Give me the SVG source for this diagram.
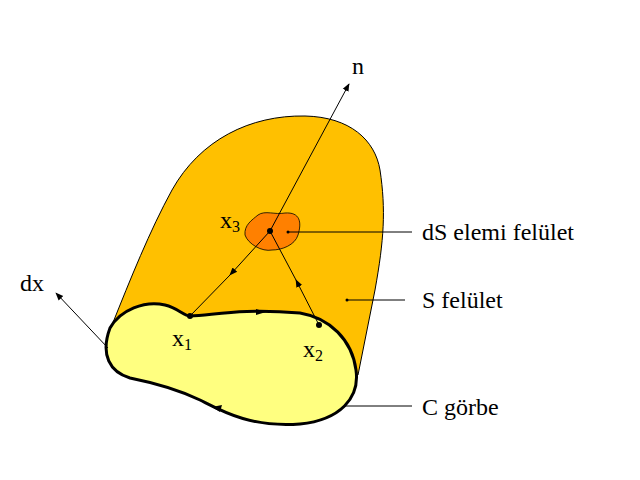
<svg xmlns="http://www.w3.org/2000/svg" width="640" height="480" viewBox="0 0 640 480">
<style>
text{font-family:"Liberation Serif",serif;font-size:24px;fill:#000}
.l{stroke:#000;stroke-width:1;fill:none}
</style>
<defs><marker id="a" viewBox="0 0 10 10" refX="9" refY="5" markerWidth="8" markerHeight="8" orient="auto"><path d="M0,1 L10,5 L0,9 z" fill="#000"/></marker></defs>
<g id="surface"><path d="M112,325 C130,280 150,230 172,190 C200,140 250,115 305,116 C350,117 375,140 380,170 C386,210 384,240 375,290 L358,375 L112,340 z" fill="#ffc000" stroke="#000" stroke-width="1"/></g>
<g id="curve"><path d="M190,316 C215,315 240,308 300,313 C330,318 352,340 356,370 C360,398 340,420 300,424 C250,428 220,410 200,400 C175,388 150,382 130,378 C110,372 100,355 110,328 C120,310 145,300 165,305 C178,308 184,316 190,316 z" fill="#ffff80" stroke="#000" stroke-width="3"/></g>
<g id="patch"><path d="M258,215 C265,210 275,215 285,213 C300,212 302,222 298,235 C295,245 282,250 272,250 C262,252 248,244 245,235 C244,225 252,220 258,215 z" fill="#ff8000" stroke="#000" stroke-width="0.8"/></g>
<g id="connectors">
<line class="l" x1="270" y1="231" x2="349" y2="84" stroke-width="1.5" marker-end="url(#a)"/>
<line class="l" x1="270" y1="231" x2="230" y2="275" marker-end="url(#a)"/>
<line class="l" x1="230" y1="275" x2="190" y2="316"/>
<line class="l" x1="319" y1="325" x2="296" y2="280" marker-end="url(#a)"/>
<line class="l" x1="296" y1="280" x2="270" y2="231"/>
<line class="l" x1="108" y1="348" x2="56" y2="293" marker-end="url(#a)"/>
<line class="l" x1="288" y1="232" x2="412" y2="232"/>
<line class="l" x1="347" y1="300" x2="405" y2="300"/>
<line class="l" x1="345" y1="406" x2="412" y2="406"/>
<path d="M256,309 L266,312 L256,315 z"/>
<path d="M222,405 L212,407 L220,412 z"/>
<circle cx="190" cy="316" r="3"/><circle cx="319" cy="325" r="3"/><circle cx="270" cy="231" r="3"/>
<circle cx="288" cy="232" r="1.5"/><circle cx="347" cy="300" r="1.5"/>
</g>
<g id="labels">
<text x="352" y="74">n</text>
<text x="220" y="228">x<tspan font-size="16" dy="4">3</tspan></text>
<text x="172" y="346">x<tspan font-size="16" dy="4">1</tspan></text>
<text x="303" y="357">x<tspan font-size="16" dy="4">2</tspan></text>
<text x="20" y="291">dx</text>
<text x="422" y="240">dS elemi felület</text>
<text x="422" y="308">S felület</text>
<text x="422" y="415">C görbe</text>
</g>
</svg>
